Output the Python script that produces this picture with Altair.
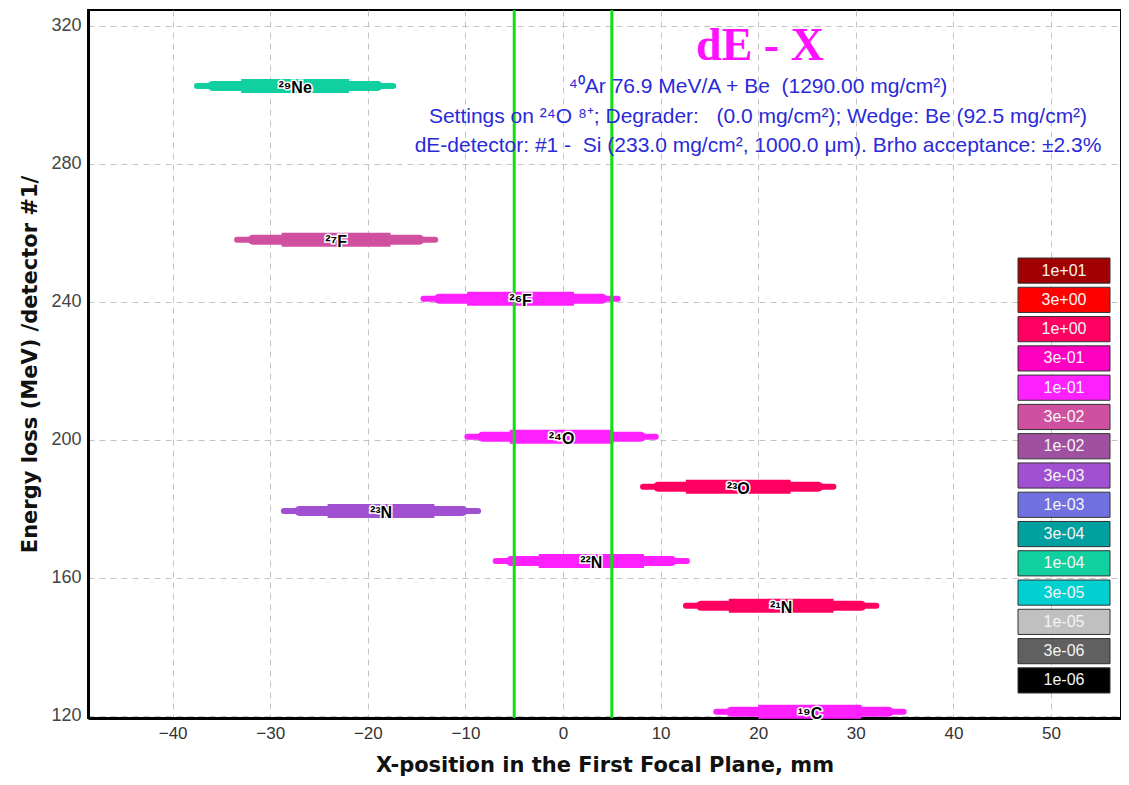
import altair as alt
import pandas as pd

# ---- data ----
nuclides = ["²⁹Ne", "²⁷F", "²⁶F", "²⁴O", "²³O", "²³N", "²²N", "²¹N", "¹⁹C"]
x_min = [-37.5, -33.4, -14.3, -9.8, 8.2, -28.6, -6.9, 12.6, 15.7]
x_max = [-17.4, -13.1, 5.6, 9.5, 27.7, -8.7, 12.7, 32.1, 34.9]
energy = [302.6, 258.0, 240.9, 200.9, 186.4, 179.4, 164.9, 151.9, 121.2]
level = ["1e-04", "3e-02", "1e-01", "1e-01", "1e+00", "3e-03", "1e-01", "1e+00", "1e-01"]

legend_labels = ["1e+01", "3e+00", "1e+00", "3e-01", "1e-01", "3e-02", "1e-02", "3e-03",
                 "1e-03", "3e-04", "1e-04", "3e-05", "1e-05", "3e-06", "1e-06"]
legend_colors = ["#a00000", "#ff0000", "#ff0060", "#ff00c0", "#ff20ff", "#d050a0", "#a050a0",
                 "#a050d0", "#7070e0", "#00a0a0", "#10d0a0", "#00d0d0", "#c0c0c0", "#606060",
                 "#000000"]

x_ticks = [-40, -30, -20, -10, 0, 10, 20, 30, 40, 50]
y_ticks = [120, 160, 200, 240, 280, 320]
slit_x = [-5, 5]

NB = "\u00a0"
title_text = "dE - X"
info_lines = [
    "⁴⁰Ar 76.9 MeV/A + Be" + NB * 2 + "(1290.00 mg/cm²)",
    "Settings on ²⁴O ⁸⁺; Degrader:" + NB * 3 + "(0.0 mg/cm²); Wedge: Be (92.5 mg/cm²)",
    "dE-detector: #1 -" + NB * 2 + "Si (233.0 mg/cm², 1000.0 μm). Brho acceptance: ±2.3%",
]

X_DOMAIN = [-48.67, 57.17]
Y_DOMAIN = [119.4, 324.6]
W, H = 1033, 708

df = pd.DataFrame({"name": nuclides, "xmin": x_min, "xmax": x_max,
                   "E": energy, "level": level})
slits = pd.DataFrame({"x": slit_x})
leg_df = pd.DataFrame({"label": legend_labels})

xs = alt.Scale(domain=X_DOMAIN, nice=False, zero=False)
ys = alt.Scale(domain=Y_DOMAIN, nice=False, zero=False)
cs = alt.Scale(domain=legend_labels, range=legend_colors)

x_axis = alt.Axis(values=x_ticks, title="X-position in the First Focal Plane, mm",
                  grid=True, gridDash=[6, 5], gridColor="#c4c4c4", ticks=False,
                  domainColor="black", domainWidth=3, labelFont="Liberation Sans",
                  labelFontSize=17, labelColor="#333", labelPadding=7,
                  titleFont="DejaVu Sans", titleFontSize=21, titleFontWeight="bold",
                  titleColor="#111", titlePadding=13)
y_axis = alt.Axis(values=y_ticks, title="Energy loss (MeV) /detector #1/",
                  grid=True, gridDash=[6, 5], gridColor="#c4c4c4", ticks=False,
                  domainColor="black", domainWidth=3, labelFont="Liberation Sans",
                  labelFontSize=18, labelColor="#444", labelPadding=7,
                  titleFont="DejaVu Sans", titleFontSize=21, titleFontWeight="bold",
                  titleColor="#111", titlePadding=10)

base = alt.Chart(df)
color = alt.Color("level:N", scale=cs, legend=None)

outer = base.mark_rule(strokeWidth=6, strokeCap="round").encode(
    x=alt.X("xmin:Q", scale=xs, axis=x_axis),
    x2="xmax:Q",
    y=alt.Y("E:Q", scale=ys, axis=y_axis),
    color=color,
)
middle = base.transform_calculate(
    c="(datum.xmin + datum.xmax) / 2", h="(datum.xmax - datum.xmin) / 2"
).transform_calculate(
    a="datum.c - 0.84 * datum.h", b="datum.c + 0.84 * datum.h"
).mark_rule(strokeWidth=10, strokeCap="round").encode(
    x=alt.X("a:Q", scale=xs), x2="b:Q", y=alt.Y("E:Q", scale=ys), color=color)
inner = base.transform_calculate(
    c="(datum.xmin + datum.xmax) / 2", h="(datum.xmax - datum.xmin) / 2"
).transform_calculate(
    a="datum.c - 0.55 * datum.h", b="datum.c + 0.55 * datum.h"
).mark_rule(strokeWidth=14, strokeCap="butt").encode(
    x=alt.X("a:Q", scale=xs), x2="b:Q", y=alt.Y("E:Q", scale=ys), color=color)

lab_base = base.transform_calculate(c="(datum.xmin + datum.xmax) / 2")
lab_halo = lab_base.mark_text(font="Liberation Sans", fontSize=16, fontWeight="bold",
                              stroke="white", strokeWidth=3, dy=2).encode(
    x=alt.X("c:Q", scale=xs), y=alt.Y("E:Q", scale=ys), text="name:N")
lab = lab_base.mark_text(font="Liberation Sans", fontSize=16, fontWeight="bold",
                         color="black", dy=2).encode(
    x=alt.X("c:Q", scale=xs), y=alt.Y("E:Q", scale=ys), text="name:N")

slit_lines = alt.Chart(slits).mark_rule(color="#10e010", strokeWidth=3).encode(
    x=alt.X("x:Q", scale=xs))

title = alt.Chart(pd.DataFrame({"t": [title_text]})).mark_text(
    font="Liberation Serif", fontSize=46, fontWeight="bold", color="#ff10ff",
    align="center", baseline="middle").encode(
    x=alt.value(672), y=alt.value(36), text="t:N")

info_layers = []
for i, line in enumerate(info_lines):
    info_layers.append(
        alt.Chart(pd.DataFrame({"t": [line]})).mark_text(
            font="Liberation Sans", fontSize=21, color="#2a2ad8",
            align="center", baseline="middle").encode(
            x=alt.value(670), y=alt.value(77 + 29.5 * i), text="t:N"))

main = alt.layer(outer, middle, inner, slit_lines, lab_halo, lab, title, *info_layers)

leg_y = alt.Y("label:N", sort=legend_labels, axis=None,
              scale=alt.Scale(range=[248, 683], paddingInner=0.14, paddingOuter=0))
leg_rect = alt.Chart(leg_df).mark_rect(stroke="#333333", strokeWidth=1).encode(
    x=alt.value(930), x2=alt.value(1022), y=leg_y,
    color=alt.Color("label:N", scale=cs, legend=None))
leg_text = alt.Chart(leg_df).mark_text(font="Liberation Sans", fontSize=16,
                                       color="#f4f4f4").encode(
    x=alt.value(976), y=leg_y, text="label:N")
legend = alt.layer(leg_rect, leg_text)

chart = alt.layer(main, legend).resolve_scale(y="independent").properties(
    width=W, height=H,
    autosize=alt.AutoSizeParams(type="none"),
    padding={"left": 80, "top": 2, "right": 0, "bottom": 58},
).configure_view(stroke="black", strokeWidth=2)

chart.save("out.html", embed_options={"renderer": "svg", "actions": False})
